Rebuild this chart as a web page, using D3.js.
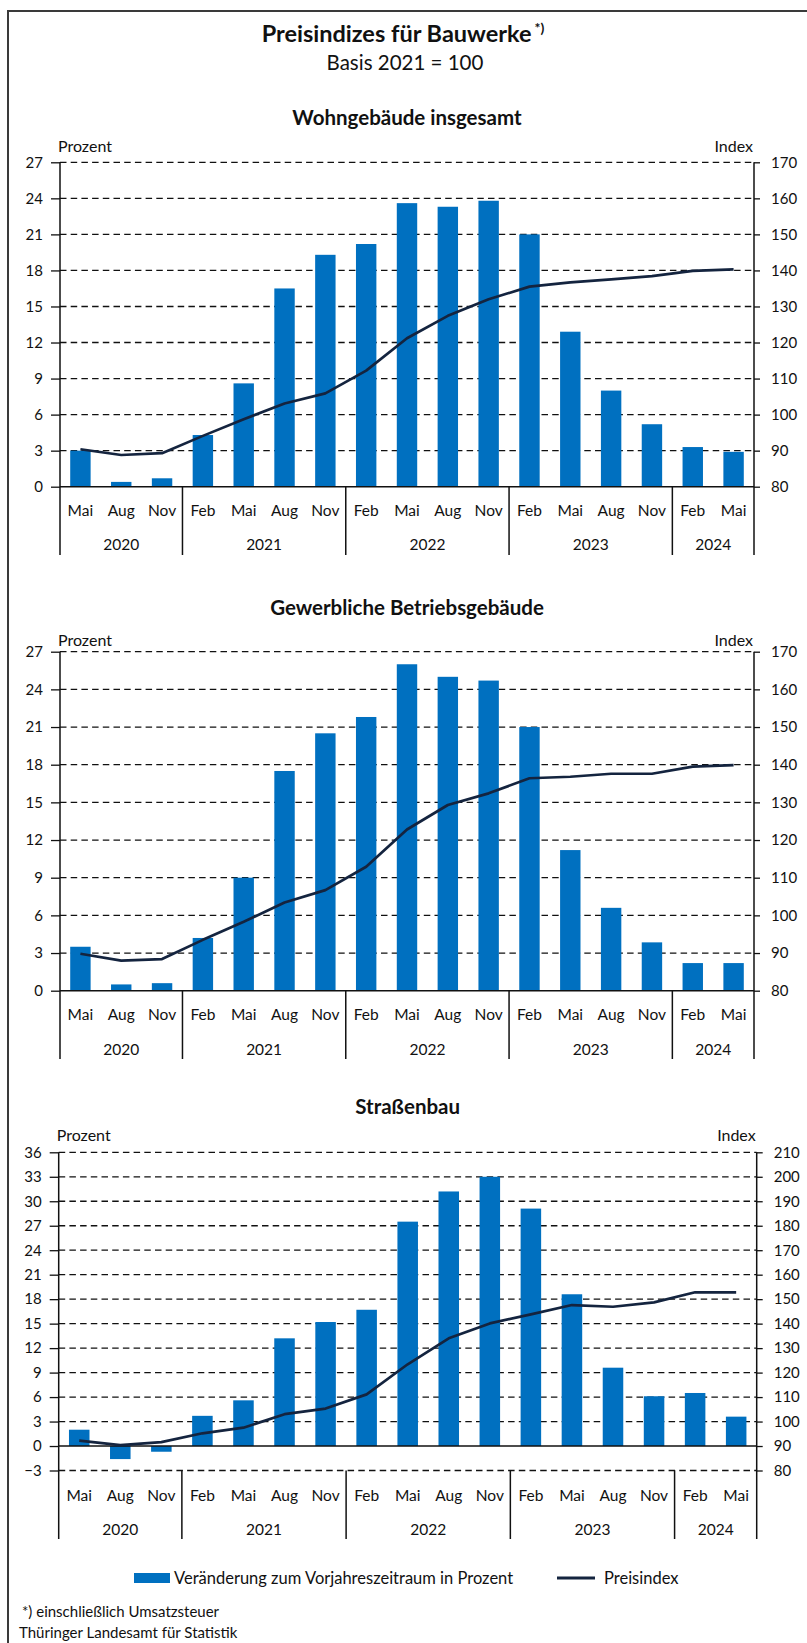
<!DOCTYPE html>
<html>
<head>
<meta charset="utf-8">
<script src="https://cdn.jsdelivr.net/npm/d3@7"></script>
<style>
  body { margin: 0; background: #fff; }
  svg text { font-family: Lato, "Open Sans", sans-serif; fill: #111; }
</style>
</head>
<body>
<div id="chart"></div>
<script>
// categories (quarter months) and their years
const months = ['Mai','Aug','Nov','Feb','Mai','Aug','Nov','Feb','Mai','Aug','Nov','Feb','Mai','Aug','Nov','Feb','Mai'];
const years = ['2020','2021','2022','2023','2024'];
const yearSpan = [3, 4, 4, 4, 2];

// Wohngebäude insgesamt
const wohnPct = [3.0, 0.4, 0.7, 4.3, 8.6, 16.5, 19.3, 20.2, 23.6, 23.3, 23.8, 21.0, 12.9, 8.0, 5.2, 3.3, 2.9];
const wohnIdx = [90.4, 88.8, 89.3, 94.1, 98.7, 103.1, 105.9, 112.2, 121.2, 127.4, 132.0, 135.5, 136.7, 137.5, 138.4, 139.9, 140.3];

// Gewerbliche Betriebsgebäude
const gewPct = [3.5, 0.5, 0.6, 4.2, 9.0, 17.5, 20.5, 21.8, 26.0, 25.0, 24.7, 21.0, 11.2, 6.6, 3.85, 2.2, 2.2];
const gewIdx = [89.8, 88.0, 88.4, 93.5, 98.3, 103.4, 106.7, 112.9, 122.8, 129.3, 132.4, 136.4, 136.8, 137.6, 137.6, 139.5, 139.9];

// Straßenbau
const strPct = [2.0, -1.6, -0.7, 3.7, 5.6, 13.2, 15.2, 16.7, 27.5, 31.2, 33.0, 29.1, 18.6, 9.6, 6.1, 6.5, 3.6];
const strIdx = [92.2, 90.4, 91.6, 95.2, 97.5, 103.0, 105.3, 111.1, 123.4, 134.0, 140.1, 143.8, 147.6, 146.9, 148.7, 152.8, 152.8];

// tick labels
const pctTicksA = d3.range(0, 28, 3);
const idxTicksA = d3.range(80, 171, 10);
const pctTicksB = d3.range(-3, 37, 3);
const idxTicksB = d3.range(80, 211, 10);

const barColor = '#0070c0';
const lineColor = '#14243f';

const width = 807, height = 1643;

const svg = d3.select('#chart').append('svg')
  .attr('width', width)
  .attr('height', height);

// frame
svg.append('path')
  .attr('d', `M8,${height} V11 H${width}`)
  .attr('fill', 'none')
  .attr('stroke', '#3a3a3a')
  .attr('stroke-width', 2);

// main title
let title = svg.append('text')
  .attr('x', 403).attr('y', 33.5).attr('dy', '0.35em')
  .attr('text-anchor', 'middle')
  .style('font-size', '23.5px').style('font-weight', 'bold');
title.append('tspan').text('Preisindizes für Bauwerke');
title.append('tspan').attr('dx', '3').attr('dy', '-9').style('font-size', '14px').text('*)');

svg.append('text')
  .attr('x', 405).attr('y', 63).attr('dy', '0.35em')
  .attr('text-anchor', 'middle')
  .style('font-size', '20.5px')
  .text('Basis 2021 = 100');

const panels = [
  {title: 'Wohngebäude insgesamt', pct: wohnPct, idx: wohnIdx, pctTicks: pctTicksA, idxTicks: idxTicksA,
   left: 60, right: 754, top: 162.3, bottom: 486.7, titleY: 118, unitY: 146.5, catY: 510.7, yearY: 545, divEnd: 555},
  {title: 'Gewerbliche Betriebsgebäude', pct: gewPct, idx: gewIdx, pctTicks: pctTicksA, idxTicks: idxTicksA,
   left: 60, right: 754, top: 651.7, bottom: 990.7, titleY: 608.3, unitY: 640.5, catY: 1014.3, yearY: 1049.3, divEnd: 1059},
  {title: 'Straßenbau', pct: strPct, idx: strIdx, pctTicks: pctTicksB, idxTicks: idxTicksB,
   left: 58.7, right: 756.7, top: 1152.3, bottom: 1470.5, titleY: 1107, unitY: 1135, catY: 1496, yearY: 1530, divEnd: 1539}
];

panels.forEach(drawPanel);

function drawPanel(p) {
  let g = svg.append('g');

  let x = d3.scaleBand()
    .domain(d3.range(months.length))
    .range([p.left, p.right])
    .paddingInner(0.5)
    .paddingOuter(0.25);

  let yL = d3.scaleLinear()
    .domain(d3.extent(p.pctTicks))
    .range([p.bottom, p.top]);

  let yR = d3.scaleLinear()
    .domain(d3.extent(p.idxTicks))
    .range([p.bottom, p.top]);

  g.append('text')
    .attr('x', (p.left + p.right) / 2).attr('y', p.titleY).attr('dy', '0.35em')
    .attr('text-anchor', 'middle')
    .style('font-size', '20.5px').style('font-weight', 'bold')
    .text(p.title);

  g.append('text')
    .attr('x', p.left - 2).attr('y', p.unitY).attr('dy', '0.35em')
    .style('font-size', '16px')
    .text('Prozent');

  g.append('text')
    .attr('x', p.right - 1).attr('y', p.unitY).attr('dy', '0.35em')
    .attr('text-anchor', 'end')
    .style('font-size', '16px')
    .text('Index');

  //gridlines
  g.selectAll('.grid')
    .data(p.pctTicks.filter(d => d !== 0))
    .join('line')
    .attr('x1', p.left).attr('x2', p.right)
    .attr('y1', d => yL(d)).attr('y2', d => yL(d))
    .attr('stroke', '#111')
    .attr('stroke-width', 1.3)
    .attr('stroke-dasharray', '6.5,4.2');

  // left axis
  let axL = g.append('g')
    .attr('transform', `translate(${p.left},0)`)
    .call(d3.axisLeft(yL).tickValues(p.pctTicks).tickSize(9).tickPadding(8).tickFormat(d3.format('d')));
  axL.select('.domain').remove();
  axL.selectAll('line').attr('stroke', '#111').attr('stroke-width', 1.3);
  axL.selectAll('text').style('font-size', '15px').style('font-family', 'Lato, sans-serif').attr('fill', '#111');

  // right axis
  let axR = g.append('g')
    .attr('transform', `translate(${p.right},0)`)
    .call(d3.axisRight(yR).tickValues(p.idxTicks).tickSize(6).tickPadding(11));
  axR.select('.domain').remove();
  axR.selectAll('line').attr('stroke', '#111').attr('stroke-width', 1.3);
  axR.selectAll('text').style('font-size', '15px').style('font-family', 'Lato, sans-serif').attr('fill', '#111');

  // bars
  g.selectAll('.bar')
    .data(p.pct)
    .join('rect')
    .attr('x', (d, i) => x(i))
    .attr('width', x.bandwidth())
    .attr('y', d => yL(Math.max(0, d)))
    .attr('height', d => Math.abs(yL(d) - yL(0)))
    .attr('fill', barColor);

  // zero line
  g.append('line')
    .attr('x1', p.left).attr('x2', p.right)
    .attr('y1', yL(0)).attr('y2', yL(0))
    .attr('stroke', '#111').attr('stroke-width', 1.5);

  // index line
  g.append('path')
    .datum(p.idx)
    .attr('fill', 'none')
    .attr('stroke', lineColor)
    .attr('stroke-width', 2.7)
    .attr('stroke-linejoin', 'round')
    .attr('d', d3.line().x((d, i) => x(i) + x.bandwidth() / 2).y(d => yR(d)));

  // vertical axes lines down to the bottom of year row
  [p.left, p.right].forEach(xx => {
    g.append('line')
      .attr('x1', xx).attr('x2', xx)
      .attr('y1', p.top).attr('y2', p.divEnd)
      .attr('stroke', '#111').attr('stroke-width', 1.5);
  });

  // category labels
  g.selectAll('.cat')
    .data(months)
    .join('text')
    .attr('x', (d, i) => x(i) + x.bandwidth() / 2)
    .attr('y', p.catY).attr('dy', '0.35em')
    .attr('text-anchor', 'middle')
    .style('font-size', '15.5px')
    .text(d => d);

  // year groups
  let step = x.step();
  let start = 0;
  years.forEach((yr, k) => {
    let x0 = p.left + start * step;
    let x1 = p.left + (start + yearSpan[k]) * step;
    g.append('text')
      .attr('x', (x0 + x1) / 2).attr('y', p.yearY).attr('dy', '0.35em')
      .attr('text-anchor', 'middle')
      .style('font-size', '15.5px')
      .text(yr);
    if (k > 0) {
      g.append('line')
        .attr('x1', x0).attr('x2', x0)
        .attr('y1', p.bottom).attr('y2', p.divEnd)
        .attr('stroke', '#111').attr('stroke-width', 1.5);
    }
    start += yearSpan[k];
  });
}

// legend
let lg = svg.append('g');
lg.append('rect')
  .attr('x', 134).attr('y', 1573).attr('width', 36).attr('height', 10)
  .attr('fill', barColor);
lg.append('text')
  .attr('x', 174).attr('y', 1578).attr('dy', '0.35em')
  .style('font-size', '16.5px')
  .text('Veränderung zum Vorjahreszeitraum in Prozent');
lg.append('line')
  .attr('x1', 557).attr('x2', 595).attr('y1', 1578).attr('y2', 1578)
  .attr('stroke', lineColor).attr('stroke-width', 3);
lg.append('text')
  .attr('x', 604).attr('y', 1578).attr('dy', '0.35em')
  .style('font-size', '16.5px')
  .text('Preisindex');

// footnotes
svg.append('text')
  .attr('x', 22).attr('y', 1612).attr('dy', '0.35em')
  .style('font-size', '15px')
  .text('*) einschließlich Umsatzsteuer');
svg.append('text')
  .attr('x', 19).attr('y', 1633).attr('dy', '0.35em')
  .style('font-size', '15px')
  .text('Thüringer Landesamt für Statistik');
</script>
</body>
</html>
